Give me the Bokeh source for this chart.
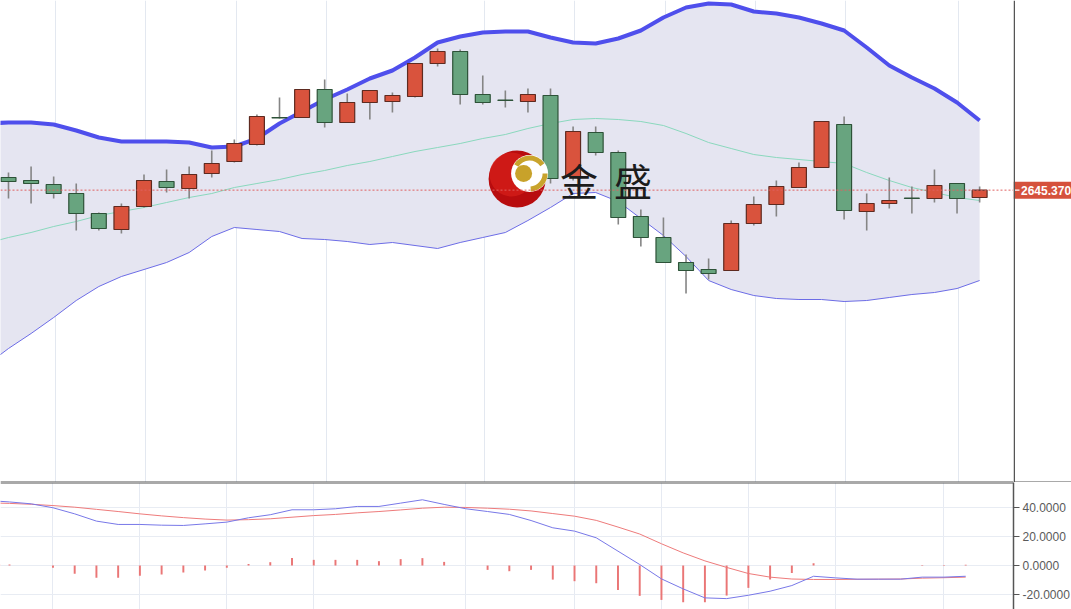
from bokeh.plotting import figure
from bokeh.layouts import column, row
from bokeh.models import (Range1d, LinearAxis, FixedTicker, Grid, Span, Label,
                          NumeralTickFormatter, ColumnDataSource)
from bokeh.core.properties import value
from bokeh.embed import file_html
from bokeh.resources import INLINE

# ---------------- data ----------------
opens  = [2658, 2655, 2651, 2642, 2622, 2606, 2629, 2654, 2647, 2662, 2674, 2691, 2718, 2718,
          2746, 2713, 2733, 2734, 2739, 2772, 2784, 2741, 2735.3, 2734, 2740, 2659, 2703, 2683,
          2619, 2598, 2573, 2566, 2565, 2612, 2631, 2648, 2668, 2711, 2624, 2632, 2637.3, 2637,
          2652, 2638]
highs  = [2663, 2669, 2659, 2652, 2623, 2632, 2661, 2666, 2669, 2685, 2696, 2721, 2738, 2746,
          2756, 2742, 2745, 2743, 2772, 2787, 2786, 2760, 2745, 2747, 2747, 2709, 2709, 2685,
          2626, 2618, 2581, 2577, 2615, 2639, 2655, 2673, 2714, 2719, 2642, 2658, 2649, 2666,
          2652, 2649]
lows   = [2637, 2632, 2637, 2605, 2605, 2602, 2628, 2643, 2637, 2658, 2673, 2690, 2717, 2718,
          2708, 2713, 2716, 2723, 2738, 2769, 2731, 2731, 2728, 2723, 2652, 2655, 2680, 2611,
          2589, 2573, 2542, 2556, 2565, 2610, 2619, 2648, 2668, 2616, 2605, 2627, 2622, 2633,
          2622, 2633]
closes = [2654, 2652, 2642, 2622, 2607, 2629, 2655, 2648, 2661, 2672, 2692, 2719, 2717.6, 2746,
          2713, 2733, 2745, 2740, 2772, 2784, 2741, 2733, 2735, 2741, 2657, 2704, 2683, 2618,
          2598, 2573, 2565, 2562, 2612, 2631, 2649, 2668, 2714, 2625, 2632, 2635, 2637, 2650,
          2637, 2645.37]
last_price = 2645.37
last_price_label = "2645.370"

# Bollinger bands (start one bar before the first visible candle)
band_upper = [2712, 2713, 2713, 2711, 2705, 2698, 2694, 2694, 2694, 2693, 2688, 2689, 2697,
              2712, 2724, 2736, 2746, 2757, 2765, 2778, 2793, 2799, 2803, 2804, 2804, 2798,
              2793, 2792, 2797, 2805, 2818, 2828, 2832, 2831, 2824, 2822, 2818, 2812, 2805,
              2788, 2770, 2758, 2747, 2733, 2715]
band_mid   = [2592, 2598, 2603, 2609, 2614, 2620, 2624, 2628, 2633, 2638, 2642, 2648, 2652,
              2656, 2661, 2665, 2670, 2674, 2679, 2684, 2688, 2692, 2697, 2701, 2707, 2712,
              2716, 2717, 2716, 2714, 2710, 2702, 2693, 2687, 2681, 2678, 2676, 2674, 2672,
              2663, 2655, 2648, 2643, 2638, 2635]
band_lower = [2470, 2487, 2502, 2518, 2535, 2549, 2559, 2566, 2573, 2583, 2599, 2608, 2606,
              2604, 2597, 2596, 2594, 2591, 2593, 2590, 2587, 2593, 2598, 2603, 2615, 2628,
              2642, 2643, 2634, 2617, 2600, 2579, 2555, 2546, 2540, 2537, 2536, 2536, 2534,
              2535, 2538, 2541, 2543, 2547, 2555]

# MACD (its own bar sequence, one bar before the first visible)
macd_dif  = [44.8, 43.8, 42.5, 39.8, 35.6, 30.6, 28.3, 28.3, 27.8, 27.6, 28.7, 29.9, 32.9,
             35.0, 38.4, 38.4, 39.1, 40.7, 40.7, 43.0, 45.3, 42.1, 39.1, 37.2, 35.2, 31.0,
             26.0, 23.7, 19.1, 9.9, 0.7, -9.2, -16.1, -22.3, -22.8, -20.5, -17.7, -13.8,
             -7.4, -8.5, -9.4, -9.4, -9.4, -8.0, -8.0, -7.4]
macd_dea  = [43.2, 42.8, 42.2, 41.3, 40.2, 38.7, 37.2, 35.6, 34.2, 33.0, 32.0, 31.3, 31.6,
             32.2, 33.3, 34.4, 35.2, 36.3, 37.2, 38.3, 39.5, 40.2, 40.0, 39.5, 38.8, 37.6,
             35.8, 34.0, 31.1, 26.5, 21.7, 15.0, 8.7, 3.2, -1.3, -5.5, -8.0, -9.3, -9.6,
             -9.6, -9.5, -9.4, -9.3, -8.7, -8.4, -8.0]
macd_hist = [0.5, 0.7, 0.0, -1.5, -5.7, -8.5, -8.5, -7.1, -6.2, -4.8, -3.4, -1.6, 1.0, 2.3,
             5.1, 3.9, 3.9, 3.9, 3.0, 4.4, 5.1, 2.5, 0.0, -3.0, -3.9, -3.0, -9.7, -10.8,
             -12.2, -16.8, -20.9, -23.7, -25.3, -25.3, -20.7, -15.4, -9.7, -5.1, 1.6, 0.0,
             0.0, 0.0, 0.0, 0.3, 0.3, 0.5]
macd_ticks = [-20, 0, 20, 40]

top_grid_idx = [2, 6, 10, 14, 21, 25, 29, 33, 37, 42]
bottom_grid_idx = [2, 6, 10, 14, 21, 26, 30, 34, 38, 43]

# ---------------- styling ----------------
UP, DOWN = "#d9533d", "#68a47f"
UP_LINE, DOWN_LINE = "#5e2a20", "#2d5238"
FW, RB = 1013, 58
TOP_H, BOT_H = 482, 127
AXIS_C = "#555555"
FONT = "Liberation Sans"

n = len(opens)
idx = list(range(n))
band_idx = list(range(-1, n))
macd_idx = list(range(-1, len(macd_dif) - 1))

price_range = Range1d(2353, 2835)

def base_fig(w, h, xr, yr):
    return figure(frame_width=w, frame_height=h, x_range=xr, y_range=yr,
                  x_axis_type=None, y_axis_type=None, toolbar_location=None,
                  output_backend="svg", min_border_left=0, min_border_top=0,
                  min_border_bottom=0, min_border_right=0, outline_line_color=None,
                  background_fill_color="white", border_fill_color="white")

top = base_fig(FW, TOP_H, Range1d(-0.354, 44.5), price_range)

top.add_layout(Grid(dimension=0, ticker=FixedTicker(ticks=[i + 0.08 for i in top_grid_idx]),
                    grid_line_color="#e3e8f0", grid_line_width=1))

# bands
top.varea(x=band_idx, y1=band_lower, y2=band_upper, fill_color="#e5e5f1", fill_alpha=1)
top.line(band_idx, band_mid, line_color="#8ad8bd", line_width=1)
top.line(band_idx, band_lower, line_color="#6c6ce6", line_width=1)
top.line(band_idx, band_upper, line_color="#4f4fec", line_width=4)

# price line
top.add_layout(Span(location=last_price, dimension="width", line_color="#e06060",
                    line_dash="2 2", line_width=1))

# candles
src = ColumnDataSource(dict(
    x=idx, o=opens, h=highs, l=lows, c=closes,
    top=[max(a, b) for a, b in zip(opens, closes)],
    bot=[min(a, b) for a, b in zip(opens, closes)],
    fill=[UP if c > o else DOWN for o, c in zip(opens, closes)],
    edge=[UP_LINE if c > o else DOWN_LINE for o, c in zip(opens, closes)],
))
top.segment(x0="x", y0="l", x1="x", y1="h", source=src, line_color="#858585", line_width=1.6)
top.vbar(x="x", top="top", bottom="bot", width=0.66, source=src,
         fill_color="fill", line_color="edge", line_width=1.2)

# watermark logo (decoration, placed in reference-pixel terms)
def rx(px):
    return (px - 8) / 22.58

def ry(py):
    return 2835 - py

top.scatter([rx(516.5)], [ry(178.5)], size=57, marker="circle", fill_color="#b80c0e",
            line_color=None)
top.scatter([rx(511)], [ry(174)], size=44, marker="circle", fill_color="#dc231c",
            fill_alpha=0.6, line_color=None)
top.scatter([rx(529)], [ry(173)], size=37, marker="circle", fill_color="white", line_color=None)
top.annular_wedge(x=[rx(529)], y=[ry(173)], inner_radius=13, outer_radius=18,
                  inner_radius_units="screen", outer_radius_units="screen",
                  start_angle=0.6, end_angle=2.6, fill_color="#c9a42c", line_color=None)
top.annular_wedge(x=[rx(529)], y=[ry(173)], inner_radius=13, outer_radius=18,
                  inner_radius_units="screen", outer_radius_units="screen",
                  start_angle=-1.5, end_angle=0.0, fill_color="#c9a42c", line_color=None)
top.scatter([rx(523)], [ry(173)], size=17, marker="circle", fill_color="#c8a22a", line_color=None)
for ch, cx in (("金", 578.5), ("盛", 632.5)):
    top.add_layout(Label(x=rx(cx), y=ry(178.5), text=ch, text_align="center",
                         text_baseline="middle", text_font="Noto Sans CJK SC",
                         text_font_size="38px", text_color="#1c1c1c"))
top.add_layout(Span(location=2353, dimension="width", line_color=AXIS_C, line_width=2))

# ---- right price scale strip with the last-price tag ----
side = base_fig(RB, TOP_H, Range1d(0, RB), price_range)
side.quad(left=[0], right=[RB], top=[last_price + 8.5], bottom=[last_price - 8.5],
          fill_color="#d5513c", line_color=None)
side.segment(x0=[1], x1=[6], y0=[last_price], y1=[last_price], line_color="white",
             line_width=1.2)
side.text(x=[7.5], y=[last_price], text=[last_price_label], text_align="left",
          text_baseline="middle", text_color="white", text_font=value(FONT),
          text_font_style="bold", text_font_size="12px")
side.add_layout(Span(location=0.75, dimension="height", line_color=AXIS_C, line_width=1.5))
side.add_layout(Span(location=2353, dimension="width", line_color=AXIS_C, line_width=2))

# ---------------- MACD panel ----------------
bot = base_fig(FW, BOT_H, Range1d(-0.414, 46.2), Range1d(-30.3, 57.2))
bot.min_border_right = RB
bot.add_layout(Grid(dimension=0, ticker=FixedTicker(ticks=bottom_grid_idx),
                    grid_line_color="#e6eaf2", grid_line_width=1))
bot.add_layout(Grid(dimension=1, ticker=FixedTicker(ticks=macd_ticks),
                    grid_line_color="#e8ecf3", grid_line_width=1))
bot.vbar(x=macd_idx, top=macd_hist, bottom=0, width=0.09, fill_color="#ea7676",
         line_color=None)
bot.line(macd_idx, macd_dea, line_color="#ee7b7b", line_width=1)
bot.line(macd_idx, macd_dif, line_color="#7878e8", line_width=1)
bax = LinearAxis(ticker=FixedTicker(ticks=macd_ticks),
                 formatter=NumeralTickFormatter(format="0.0000"),
                 axis_line_color=AXIS_C, axis_line_width=1.5, major_tick_line_color=AXIS_C,
                 major_tick_in=0, major_tick_out=6, minor_tick_line_color=None,
                 major_label_text_font=FONT, major_label_text_font_size="12px",
                 major_label_text_color="#5a5a5a", major_label_standoff=3)
bot.add_layout(bax, "right")
bot.add_layout(Span(location=57.2, dimension="width", line_color=AXIS_C, line_width=2))

layout = column(row(top, side, spacing=0), bot, spacing=0)
open("out.html", "w").write(file_html(layout, INLINE))
